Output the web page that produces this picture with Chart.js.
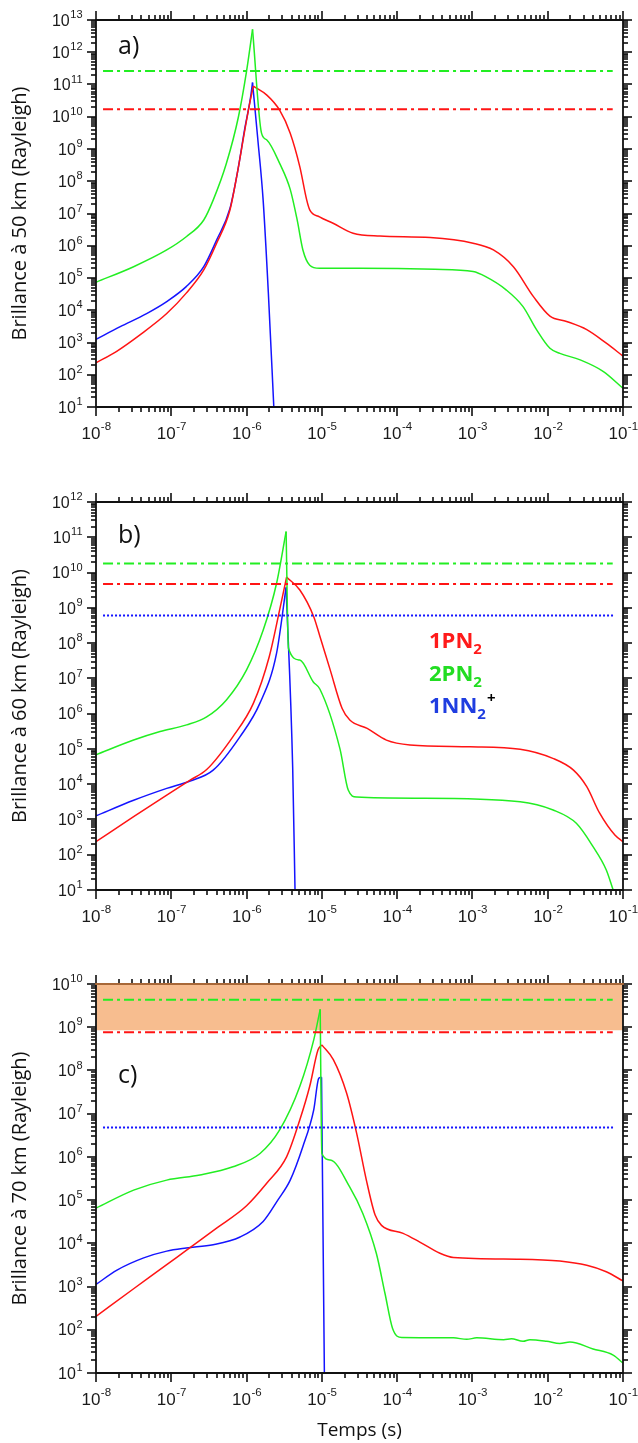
<!DOCTYPE html>
<html><head><meta charset="utf-8">
<script src="https://cdn.jsdelivr.net/npm/chart.js@4.4.1/dist/chart.umd.min.js"></script>
<style>
html,body{margin:0;padding:0;background:#fff;}
body{width:638px;height:1443px;position:relative;overflow:hidden;}
canvas{position:absolute;left:0;}
</style></head><body>
<canvas id="ca" width="638" height="460" style="top:0px"></canvas>
<canvas id="cb" width="638" height="460" style="top:470px"></canvas>
<canvas id="cc" width="638" height="493" style="top:950px"></canvas>
<script>
// ---------- tick values ----------
const xTickValues = [1e-8, 1e-7, 1e-6, 1e-5, 1e-4, 1e-3, 1e-2, 1e-1];
const yTicksA = [1e1,1e2,1e3,1e4,1e5,1e6,1e7,1e8,1e9,1e10,1e11,1e12,1e13];
const yTicksB = [1e1,1e2,1e3,1e4,1e5,1e6,1e7,1e8,1e9,1e10,1e11,1e12];
const yTicksC = [1e1,1e2,1e3,1e4,1e5,1e6,1e7,1e8,1e9,1e10];
const minorMultipliers = [2,3,4,5,6,7,8,9];

// ---------- reference (horizontal) levels ----------
const refDashT = [1.24e-8, 7.3e-2];
const refDotT  = [1.24e-8, 7.8e-2];
const a_ref1PN2 = 1.7e10, a_ref2PN2 = 2.6e11;
const b_ref1PN2 = 4.7e9,  b_ref2PN2 = 1.8e10, b_ref1NN2 = 6.1e8;
const c_ref1PN2 = 7.6e8,  c_ref2PN2 = 4.3e9,  c_ref1NN2 = 4.8e6;
const c_bandT = [1e-8, 1e-1];
const c_bandTop = 1e10, c_bandBottom = 8.5e8;

// ---------- panel a (50 km) ----------
const a_1PN2_t = [1e-8,1.86e-8,3.8e-8,8.7e-8,1.58e-7,2.7e-7,4.0e-7,6.0e-7,7.6e-7,9.5e-7,1.12e-6,1.23e-6,1.86e-6,2.75e-6,3.8e-6,5.1e-6,6.3e-6,6.9e-6,9.3e-6,1.41e-5,2.6e-5,5.9e-5,2.75e-4,1.02e-3,1.9e-3,3.5e-3,6.5e-3,1.07e-2,1.78e-2,3.3e-2,6.0e-2,0.1];
const a_1PN2_v = [234,525,1.7e3,7.9e3,3.4e4,1.78e5,1.2e6,1.26e7,2.0e8,4.0e9,3.2e10,8.9e10,4.7e10,1.6e10,3.1e9,2.8e8,2.6e7,1.3e7,7.9e6,5.0e6,2.45e6,2.0e6,1.8e6,1.2e6,7.4e5,2.24e5,2.6e4,6.6e3,4.5e3,2.5e3,950,380];
const a_2PN2_t = [1e-8,3.16e-8,8.7e-8,1.58e-7,2.7e-7,3.6e-7,5.4e-7,7.8e-7,1.0e-6,1.2e-6,1.58e-6,1.86e-6,2.75e-6,3.8e-6,4.7e-6,5.6e-6,6.9e-6,9.3e-6,3.16e-5,3.16e-4,1.02e-3,1.5e-3,2.8e-3,4.7e-3,7.1e-3,1.07e-2,1.45e-2,2.7e-2,5.5e-2,0.1];
const a_2PN2_v = [7.4e4,2.24e5,7.4e5,1.9e6,6.3e6,2.6e7,3.6e8,1.0e10,2.6e11,5.1e12,3.1e9,1.9e9,3.6e8,5.6e7,6.3e6,7.4e5,2.5e5,2.0e5,2.0e5,1.86e5,1.58e5,1.1e5,4.3e4,1.3e4,2.5e3,660,460,290,126,38];
const a_1NN2_t = [1e-8,2.1e-8,4.7e-8,8.7e-8,1.58e-7,2.7e-7,4.0e-7,6.0e-7,7.6e-7,9.5e-7,1.12e-6,1.2e-6,1.41e-6,1.66e-6,1.95e-6,2.3e-6];
const a_1NN2_v = [1.26e3,3.1e3,7.9e3,1.86e4,5.4e4,2.24e5,1.5e6,1.4e7,2.0e8,4.5e9,3.5e10,1.15e11,2.0e9,2.6e7,3.2e4,10];

// ---------- panel b (60 km) ----------
const b_1PN2_t = [1e-8,3.16e-8,8.7e-8,1.78e-7,2.95e-7,6.6e-7,1.23e-6,2.0e-6,2.75e-6,3.4e-6,5.1e-6,7.8e-6,9.3e-6,1.29e-5,1.86e-5,2.35e-5,4.0e-5,7.2e-5,1.48e-4,9.3e-4,4.3e-3,1.17e-2,2.2e-2,3.3e-2,4.9e-2,7.8e-2,0.1];
const b_1PN2_v = [234,1.2e3,4.9e3,1.3e4,2.6e4,2.24e5,1.95e6,4.1e7,8.7e8,7.4e9,3.2e9,5.6e8,1.7e8,1.74e7,1.4e6,6.6e5,3.8e5,1.78e5,1.3e5,1.15e5,9.8e4,5.4e4,2.5e4,8.5e3,1.5e3,360,234];
const b_2PN2_t = [1e-8,3.16e-8,7.1e-8,1.6e-7,2.95e-7,5.4e-7,1.0e-6,1.66e-6,2.5e-6,3.35e-6,3.6e-6,5.1e-6,7.7e-6,9.4e-6,1.74e-5,2.24e-5,2.9e-5,2.0e-4,4.3e-3,1.18e-2,2.4e-2,4.0e-2,6.0e-2,7.4e-2];
const b_2PN2_v = [6.8e4,1.78e5,3.1e5,4.8e5,8.1e5,2.45e6,1.74e7,2.3e8,4.9e9,1.45e11,7.1e7,3.3e7,7.9e6,5.0e6,1.0e5,6.8e3,4.3e3,4.0e3,3.2e3,1.86e3,780,170,37,10];
const b_1NN2_t = [1e-8,3.16e-8,8.7e-8,1.78e-7,3.6e-7,8.2e-7,1.5e-6,2.5e-6,3.35e-6,4.1e-6,4.4e-6];
const b_1NN2_v = [1.26e3,3.5e3,7.6e3,1.23e4,2.5e4,2.24e5,1.95e6,5.1e7,3.8e9,2.8e4,10];

// ---------- panel c (70 km) ----------
const c_1PN2_t = [1e-8,3.16e-8,8.7e-8,1.58e-7,4.0e-7,1.0e-6,1.85e-6,3.4e-6,5.1e-6,6.9e-6,8.9e-6,1.0e-5,1.42e-5,2.13e-5,2.9e-5,3.9e-5,5.1e-5,6.2e-5,1.2e-4,2.0e-4,3.7e-4,5.6e-4,4.3e-3,1.45e-2,3.3e-2,6.0e-2,0.1];
const c_1PN2_v = [204,890,3.2e3,6.9e3,2.24e4,7.4e4,2.45e5,1.0e6,7.2e6,4.3e7,3.0e8,3.9e8,1.78e8,3.0e7,3.5e6,2.9e5,4.5e4,2.6e4,1.7e4,1.07e4,5.9e3,4.7e3,4.3e3,3.9e3,3.1e3,2.2e3,1.35e3];
const c_2PN2_t = [1e-8,3.16e-8,8.7e-8,2.4e-7,6.6e-7,1.51e-6,2.75e-6,5.1e-6,7.8e-6,9.5e-6,1.0e-5,1.29e-5,2.35e-5,3.5e-5,5.3e-5,6.9e-5,8.7e-5,1.15e-4,5.6e-4,8.4e-4,1.14e-3,2.6e-3,3.3e-3,4.7e-3,5.8e-3,9.7e-3,1.45e-2,1.97e-2,4.0e-2,7.4e-2,0.1];
const c_2PN2_v = [6.5e4,1.7e5,2.9e5,3.8e5,5.9e5,1.2e6,4.2e6,4.3e7,5.1e8,2.6e9,1.2e6,8.5e5,2.0e5,4.9e4,5.8e3,690,107,66,65,60,65,59,62,54,59,54,48,52,36,26,17];
const c_1NN2_t = [1e-8,1.9e-8,4.3e-8,8.7e-8,1.58e-7,3.6e-7,8.2e-7,1.66e-6,2.6e-6,3.8e-6,5.6e-6,7.8e-6,9.1e-6,9.9e-6,1.08e-5];
const c_1NN2_v = [1.12e3,2.4e3,4.6e3,6.6e3,7.8e3,9.3e3,1.4e4,3.2e4,1.0e5,2.9e5,1.74e6,1.23e7,6.6e7,7.0e7,10];

// ---------- styling ----------
const RED = '#ff1414', GREEN = '#22ee22', BLUE = '#1414ff';
const TICK_FONT = '"Liberation Sans", Arial, sans-serif';
const TITLE_FONT = '"Open Sans", sans-serif';
const SUP = {'-':'\u207B','0':'\u2070','1':'\u00B9','2':'\u00B2','3':'\u00B3','4':'\u2074','5':'\u2075','6':'\u2076','7':'\u2077','8':'\u2078','9':'\u2079'};
function pow10Label(v){ const e = Math.round(Math.log10(v)); return '10' + String(e).split('').map(c=>SUP[c]).join(''); }

// a curve: split at its maximum so the peak stays a sharp cusp; each part is smoothed
function curve(t, v, color){
  const pts = t.map((x,i)=>({x:x, y:v[i]}));
  let im = 0; v.forEach((val,i)=>{ if (val > v[im]) im = i; });
  const parts = (im > 0 && im < pts.length-1) ? [pts.slice(0, im+1), pts.slice(im)] : [pts];
  return parts.map(p => ({data: p, borderColor: color, backgroundColor: color, borderWidth: 1.5,
    pointRadius: 0, showLine: true, cubicInterpolationMode: 'monotone', fill: false}));
}
function level(t, value, color, dash, w){
  return {data: t.map(x=>({x:x, y:value})), borderColor: color, backgroundColor: color, borderDash: dash,
    borderWidth: w||2, pointRadius: 0, showLine: true, fill: false};
}
const DASHDOT = [10,4,3,4];
const DOT = [2,2];

// frame, major/minor tick marks (all four sides) and 10^n tick labels, placed via the scales
function makeFramePlugin(yMajors, topColor){
  const marks = (majors) => {
    const out = [];
    for (let i = 0; i < majors.length; i++) {
      out.push([majors[i], 9]);
      if (i < majors.length - 1) for (let j = 0; j < minorMultipliers.length; j++) out.push([minorMultipliers[j]*majors[i], 5]);
    }
    return out;
  };
  const xm = marks(xTickValues), ym = marks(yMajors);
  return {
    id: 'frameTicks',
    afterDraw(chart){
      const ctx = chart.ctx, ca = chart.chartArea;
      const x = chart.scales.x, y = chart.scales.y;
      ctx.save();
      ctx.fillStyle = '#111';
      const W = 1.6;
      for (const [v, L] of xm) {
        const px = Math.round(x.getPixelForValue(v));
        ctx.fillRect(px - W/2, ca.bottom, W, L);
        ctx.fillRect(px - W/2, ca.top - L, W, L);
      }
      for (const [v, L] of ym) {
        const py = Math.round(y.getPixelForValue(v));
        ctx.fillRect(ca.left - L, py - W/2, L, W);
        ctx.fillRect(ca.right, py - W/2, L, W);
      }
      ctx.lineWidth = 1.8; ctx.strokeStyle = '#111';
      ctx.beginPath();
      ctx.moveTo(ca.left, ca.top); ctx.lineTo(ca.left, ca.bottom); ctx.lineTo(ca.right, ca.bottom); ctx.lineTo(ca.right, ca.top);
      ctx.stroke();
      ctx.strokeStyle = topColor || '#111';
      ctx.beginPath(); ctx.moveTo(ca.left - 0.9, ca.top); ctx.lineTo(ca.right + 0.9, ca.top); ctx.stroke();

      // tick labels "10" + raised exponent, from the scales' own ticks
      ctx.fillStyle = '#1a1a1a'; ctx.textBaseline = 'alphabetic'; ctx.textAlign = 'left';
      const widths = (value, size, esize) => {
        const e = String(Math.round(Math.log10(value)));
        ctx.font = size + 'px ' + TICK_FONT; const wb = ctx.measureText('10').width;
        ctx.font = esize + 'px ' + TICK_FONT; const we = ctx.measureText(e).width;
        return {e, wb, we};
      };
      x.ticks.forEach(tk => {
        const px = x.getPixelForValue(tk.value);
        const {e, wb, we} = widths(tk.value, 17, 11.5);
        const x0 = px - (wb + we)/2, by = ca.bottom + 32;
        ctx.font = '17px ' + TICK_FONT; ctx.fillText('10', x0, by);
        ctx.font = '11.5px ' + TICK_FONT; ctx.fillText(e, x0 + wb + 0.5, by - 9);
      });
      y.ticks.forEach(tk => {
        const py = y.getPixelForValue(tk.value);
        const {e, wb, we} = widths(tk.value, 16, 11);
        const x0 = 82 - (wb + we), by = py + 5.7;
        ctx.font = '16px ' + TICK_FONT; ctx.fillText('10', x0, by);
        ctx.font = '11px ' + TICK_FONT; ctx.fillText(e, x0 + wb + 0.5, by - 7.5);
      });
      ctx.restore();
    }
  };
}

// panel letters and inline legend
function makeTextPlugin(items){
  return {
    id: 'panelText',
    afterDraw(chart){
      const ctx = chart.ctx;
      ctx.save();
      ctx.textBaseline = 'alphabetic'; ctx.textAlign = 'left';
      items.forEach(item => {
        let cx = item.x;
        item.runs.forEach(r => {
          ctx.font = (r.weight || 400) + ' ' + r.size + 'px ' + TITLE_FONT;
          ctx.fillStyle = r.color;
          ctx.fillText(r.t, cx + (r.dx||0), item.y + (r.dy||0));
          cx += ctx.measureText(r.t).width + (r.dx||0);
        });
      });
      ctx.restore();
    }
  };
}

function buildChart(id, cfg){
  return new Chart(document.getElementById(id), {
    type: 'scatter',
    data: {datasets: cfg.datasets},
    options: {
      responsive: false, animation: false, events: [],
      layout: {padding: {top: cfg.padTop, right: 15, left: 0, bottom: 0}},
      plugins: {legend: {display: false}, tooltip: {enabled: false}},
      scales: {
        x: {type: 'logarithmic', position: 'bottom', min: 1e-8, max: 1e-1,
          afterBuildTicks: s => { s.ticks = xTickValues.map(v => ({value: v})); },
          afterFit: s => { s.height = cfg.xHeight; },
          grid: {display: false, drawTicks: false}, border: {display: false},
          ticks: {display: false, autoSkip: false, maxRotation: 0, callback: v => pow10Label(v)},
          title: {display: !!cfg.xTitle, text: cfg.xTitle || '', color: '#111',
            font: {family: TITLE_FONT, size: 19}, padding: {top: 0, bottom: 1}}
        },
        y: {type: 'logarithmic', position: 'left', min: cfg.yTicks[0], max: cfg.yTicks[cfg.yTicks.length-1],
          afterBuildTicks: s => { s.ticks = cfg.yTicks.map(v => ({value: v})); },
          afterFit: s => { s.width = 96; },
          grid: {display: false, drawTicks: false}, border: {display: false},
          ticks: {display: false, autoSkip: false, callback: v => pow10Label(v)},
          title: {display: true, text: cfg.yTitle, color: '#111',
            font: {family: TITLE_FONT, size: 20}, padding: {top: 8, bottom: 0}}
        }
      }
    },
    plugins: [makeFramePlugin(cfg.yTicks, cfg.topColor), makeTextPlugin(cfg.texts)]
  });
}

const LEG = (y, text, color, plus) => {
  const runs = [{t: text, size: 22, weight: 700, color: color}, {t: '2', size: 15, weight: 700, color: color, dy: 6}];
  if (plus) runs.push({t: '+', size: 15, weight: 700, color: '#000', dy: -10, dx: 1});
  return {x: 429, y: y, runs: runs};
};

// ---------- panel a ----------
buildChart('ca', {
  padTop: 20, xHeight: 53, yTicks: yTicksA, yTitle: 'Brillance à 50 km (Rayleigh)',
  texts: [{x: 118, y: 54, runs: [{t: 'a)', size: 25, color: '#111'}]}],
  datasets: [
    level(refDashT, a_ref2PN2, GREEN, DASHDOT),
    level(refDashT, a_ref1PN2, RED, DASHDOT),
    ...curve(a_2PN2_t, a_2PN2_v, GREEN),
    ...curve(a_1PN2_t, a_1PN2_v, RED),
    ...curve(a_1NN2_t, a_1NN2_v, BLUE)
  ]
});

// ---------- panel b ----------
buildChart('cb', {
  padTop: 32, xHeight: 40, yTicks: yTicksB, yTitle: 'Brillance à 60 km (Rayleigh)',
  texts: [
    {x: 118, y: 73, runs: [{t: 'b)', size: 25, color: '#111'}]},
    LEG(178, '1PN', '#ff1a1a'),
    LEG(210.5, '2PN', '#22dd22'),
    LEG(243, '1NN', '#1f3de0', true)
  ],
  datasets: [
    level(refDashT, b_ref2PN2, GREEN, DASHDOT),
    level(refDashT, b_ref1PN2, RED, DASHDOT),
    level(refDotT, b_ref1NN2, BLUE, DOT),
    ...curve(b_2PN2_t, b_2PN2_v, GREEN),
    ...curve(b_1PN2_t, b_1PN2_v, RED),
    ...curve(b_1NN2_t, b_1NN2_v, BLUE)
  ]
});

// ---------- panel c ----------
buildChart('cc', {
  padTop: 34, xHeight: 70, yTicks: yTicksC, yTitle: 'Brillance à 70 km (Rayleigh)', xTitle: 'Temps (s)',
  topColor: '#a86838',
  texts: [{x: 118, y: 133, runs: [{t: 'c)', size: 25, color: '#111'}]}],
  datasets: [
    {data: c_bandT.map(x => ({x: x, y: c_bandTop})), borderColor: '#a86838', backgroundColor: '#f7bd8f',
     borderWidth: 1.5, pointRadius: 0, showLine: true, fill: {value: c_bandBottom}, order: 10},
    level(refDashT, c_ref2PN2, GREEN, DASHDOT),
    level(refDashT, c_ref1PN2, RED, DASHDOT),
    level(refDotT, c_ref1NN2, BLUE, DOT),
    ...curve(c_2PN2_t, c_2PN2_v, GREEN),
    ...curve(c_1PN2_t, c_1PN2_v, RED),
    ...curve(c_1NN2_t, c_1NN2_v, BLUE)
  ]
});
</script>
</body></html>
